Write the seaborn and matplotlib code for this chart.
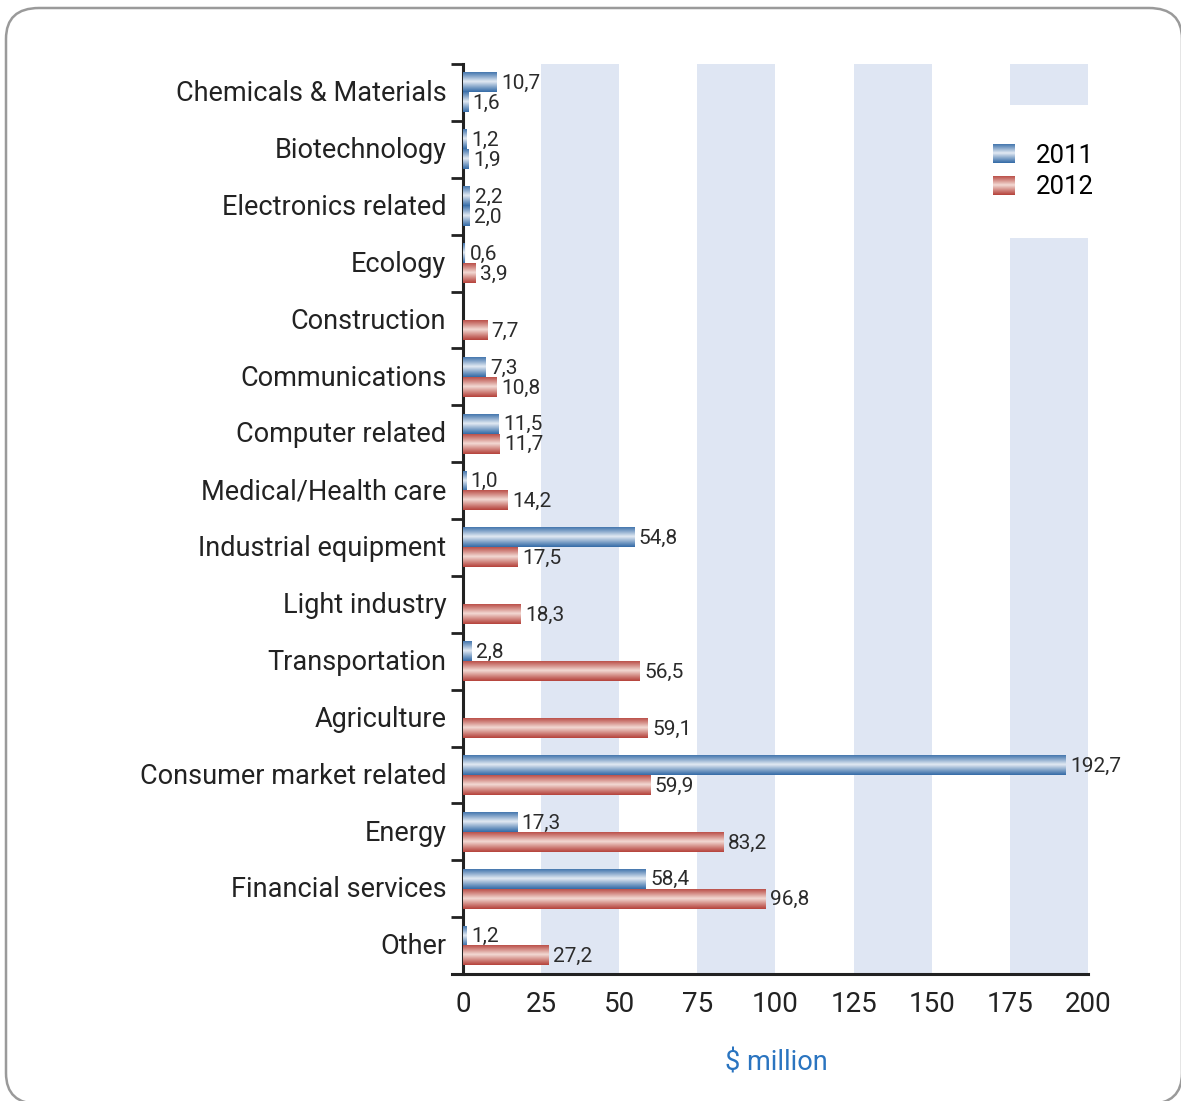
import numpy as np
import pandas as pd
import matplotlib
matplotlib.use("Agg")
import matplotlib.pyplot as plt
import seaborn as sns
from matplotlib.patches import FancyBboxPatch, Patch
from matplotlib.image import BboxImage
from matplotlib.transforms import Bbox, TransformedBbox
from matplotlib.legend_handler import HandlerBase
from matplotlib.colors import to_rgb

# ---- data ($ million) ----
sectors = [
    "Chemicals & Materials", "Biotechnology", "Electronics related", "Ecology",
    "Construction", "Communications", "Computer related", "Medical/Health care",
    "Industrial equipment", "Light industry", "Transportation", "Agriculture",
    "Consumer market related", "Energy", "Financial services", "Other",
]
values_2011 = [10.7, 1.2, 2.2, 0.6, np.nan, 7.3, 11.5, 1.0,
               54.8, np.nan, 2.8, np.nan, 192.7, 17.3, 58.4, 1.2]
values_2012 = [1.6, 1.9, 2.0, 3.9, 7.7, 10.8, 11.7, 14.2,
               17.5, 18.3, 56.5, 59.1, 59.9, 83.2, 96.8, 27.2]
years = ["2011", "2012"]
x_ticks = [0, 25, 50, 75, 100, 125, 150, 175, 200]

df = pd.DataFrame({
    "sector": sectors * 2,
    "year": [years[0]] * len(sectors) + [years[1]] * len(sectors),
    "value": values_2011 + values_2012,
})

# gradient colours (edge, centre) per year
grad = {
    "2011": ("#3068a5", "#e3eaf3"),
    "2012": ("#b43f38", "#f3dad4"),
}


def gradient_array(edge, centre, n=64):
    t = np.linspace(0, 1, n)
    # light band near the middle, dark towards both edges
    s = np.clip(1 - np.abs((t - 0.47) / 0.55), 0, 1) ** 1.1
    e = np.array(to_rgb(edge))
    c = np.array(to_rgb(centre))
    rgb = e[None, :] * (1 - s[:, None]) + c[None, :] * s[:, None]
    return rgb[:, None, :]


plt.rcParams["font.family"] = ["Roboto", "DejaVu Sans"]
fig = plt.figure(figsize=(11.81, 11.01), dpi=100)
ax = fig.add_axes([452 / 1181, 1 - 974 / 1101, 636 / 1181, 910 / 1101])

sns.barplot(data=df, y="sector", x="value", hue="year", orient="h",
            order=sectors, hue_order=years, width=0.7, dodge=True,
            palette=["#3a6ea8", "#b8473f"], ax=ax, legend=False,
            saturation=1, err_kws={"linewidth": 0})

# replace flat bars by shaded cylinders
n = len(sectors)
for i, patch in enumerate(ax.patches):
    w = patch.get_width()
    if not np.isfinite(w) or w == 0:
        continue
    year = years[0] if i < n else years[1]
    x0, y0 = patch.get_x(), patch.get_y()
    h = patch.get_height()
    patch.set_facecolor("none")
    patch.set_edgecolor("none")
    ax.imshow(gradient_array(*grad[year]), extent=(x0, x0 + w, y0 + h, y0),
              aspect="auto", interpolation="bilinear", zorder=3)
    lab = f"{w:.1f}".replace(".", ",")
    ax.text(x0 + w + 1.5, y0 + h / 2 + 0.02, lab, va="center", ha="left",
            fontsize=15, color="#2b2b2b", zorder=4)

# alternating background bands
for a in range(25, 200, 50):
    ax.axvspan(a, a + 25, color="#dfe6f3", lw=0, zorder=0)

ax.set_xlim(-3.5, 200)
ax.set_ylim(n - 0.5, -0.5)
ax.set_aspect("auto")

ax.spines["left"].set_position(("data", 0))
for s in ["top", "right"]:
    ax.spines[s].set_visible(False)
for s in ["left", "bottom"]:
    ax.spines[s].set_color("#222222")
    ax.spines[s].set_linewidth(2.2)

# x axis: labels every 25, tick marks every 50
ax.set_xticks(x_ticks)
ax.set_xticklabels([str(v) for v in x_ticks], fontsize=20, color="#222222")
ax.tick_params(axis="x", which="major", length=0, pad=12)
ax.set_xticks([0, 50, 100, 150, 200], minor=True)
ax.tick_params(axis="x", which="minor", length=9, width=2, color="#222222",
               direction="out")

# y axis: category labels, separators between categories
ax.set_yticks(np.arange(n) - 0.03)
ax.set_yticklabels(sectors, fontsize=19.5, color="#222222")
ax.tick_params(axis="y", which="major", length=0, pad=12)
ax.set_yticks(np.arange(-0.5, n, 1.0), minor=True)
ax.tick_params(axis="y", which="minor", length=9, width=2, color="#222222",
               direction="out")

ax.set_ylabel("")
ax.set_xlabel("$ million", fontsize=19.5, color="#2a74c0")
ax.xaxis.set_label_coords(ax.transAxes.inverted().transform(
    fig.transFigure.transform((776 / 1181, 0)))[0], -0.083)


class GradientHandler(HandlerBase):
    def __init__(self, colours):
        super().__init__()
        self.colours = colours

    def create_artists(self, legend, orig_handle, xdescent, ydescent,
                       width, height, fontsize, trans):
        year = orig_handle.get_label()
        bb = Bbox.from_bounds(-xdescent, -ydescent, width, height)
        img = BboxImage(TransformedBbox(bb, trans), interpolation="bilinear")
        img.set_data(gradient_array(*self.colours[year]))
        return [img]


handles = [Patch(label=y) for y in years]
leg = ax.legend(handles=handles, labels=years, loc="center",
                bbox_to_anchor=(0.93, 0.882), fontsize=18.5, frameon=True,
                facecolor="white", edgecolor="none", framealpha=1,
                fancybox=False, borderpad=1.5, handlelength=0.85,
                handleheight=0.75, handletextpad=0.85, labelspacing=0.3,
                handler_map={Patch: GradientHandler(grad)})
leg.set_zorder(5)

# rounded panel border
fig.patches.append(FancyBboxPatch(
    (6 / 1181, 1 - 1104 / 1101), 1176 / 1181, 1096 / 1101,
    boxstyle="round,pad=0,rounding_size=0.028",
    transform=fig.transFigure, facecolor="none", edgecolor="#9a9a9a",
    linewidth=1.8, zorder=-1))

fig.savefig("out.png", dpi=100)
